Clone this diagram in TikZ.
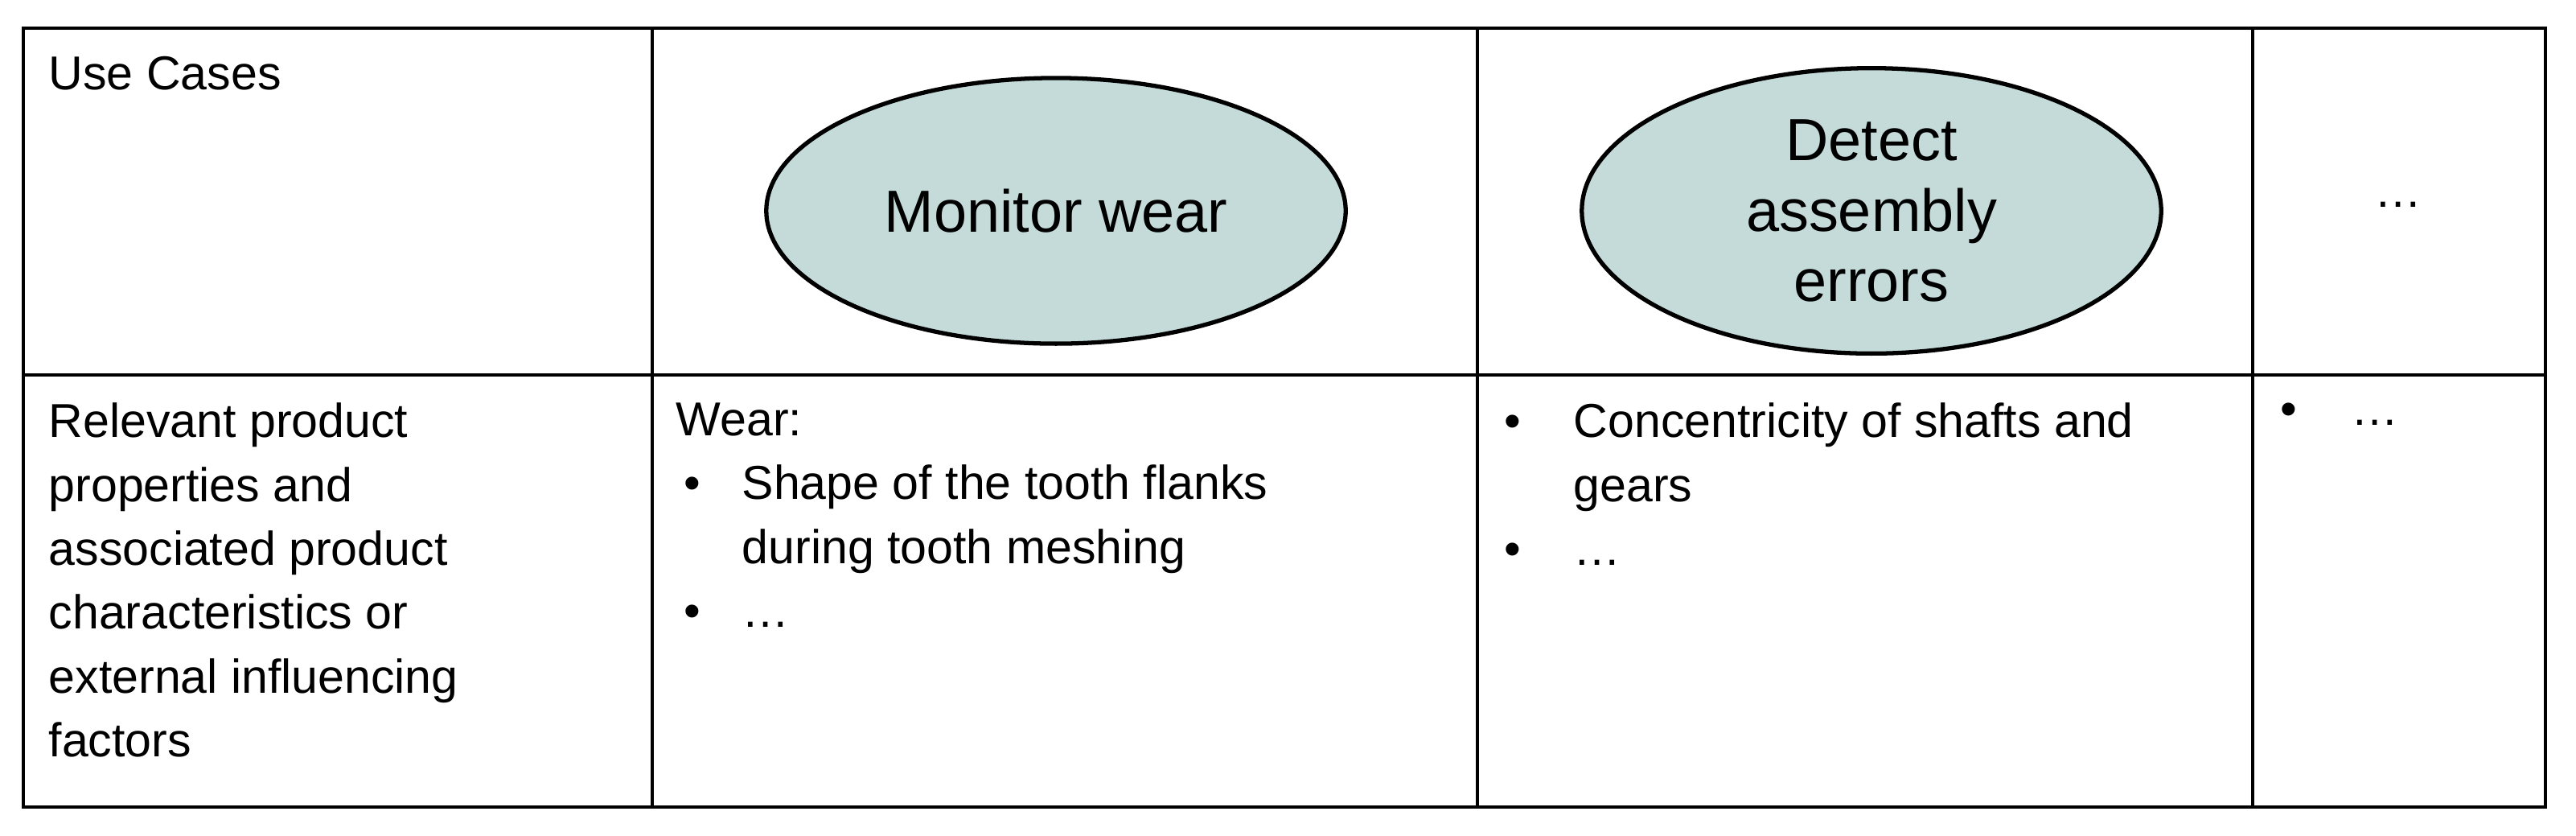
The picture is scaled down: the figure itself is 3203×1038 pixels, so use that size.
\documentclass[tikz,border=0pt]{standalone}
\usepackage{fontspec}
\setmainfont{Liberation Sans}
\usetikzlibrary{shapes.geometric, positioning}
\definecolor{ucfill}{HTML}{C4DBDA}
\begin{document}
\begin{tikzpicture}[x=0.01cm, y=-0.01cm,
    cell/.style={anchor=north west, align=left, inner sep=0pt, font=\fontsize{16.8}{22.6}\selectfont},
    usecase/.style={draw, ellipse, fill=ucfill, line width=1.5pt, minimum width=7.2cm, minimum height=3.3cm, align=center, font=\fontsize{21}{25}\selectfont}]

    \useasboundingbox (0,0) rectangle (3203,1038);
    % table grid
    \draw[line width=1.3pt] (29,35) rectangle (3165,1003);
    \draw[line width=1.3pt] (29,466) -- (3165,466);
    \foreach \x in {811,1837,2801}
        \draw[line width=1.3pt] (\x,35) -- (\x,1003);

    % header row
    \node [cell] (uc) at (60,70) {Use Cases};
    \node [usecase] (wear) at (1313,262) {Monitor wear};
    \node [usecase] (assembly) at (2327,262) {Detect\\assembly\\errors};
    \node [cell] (more) at (2952,250) {\dots};

    % properties row
    \node [cell] (props) at (60,500) {Relevant product\\properties and\\associated product\\characteristics or\\external influencing\\factors};
    \node [cell] (wearprops) at (840,500) {Wear:\\
        \makebox[0.82cm][l]{\hspace{0.1cm}\textbullet}Shape of the tooth flanks\\
        \makebox[0.82cm][l]{}during tooth meshing\\
        \makebox[0.82cm][l]{\hspace{0.1cm}\textbullet}\dots};
    \node [cell] (assprops) at (1870,500) {%
        \makebox[0.86cm][l]{\textbullet}Concentricity of shafts and\\
        \makebox[0.86cm][l]{}gears\\
        \makebox[0.86cm][l]{\textbullet}\dots};
    \node [cell] (moreprops) at (2835,500) {\makebox[0.88cm][l]{\textbullet}\dots};
\end{tikzpicture}
\end{document}
